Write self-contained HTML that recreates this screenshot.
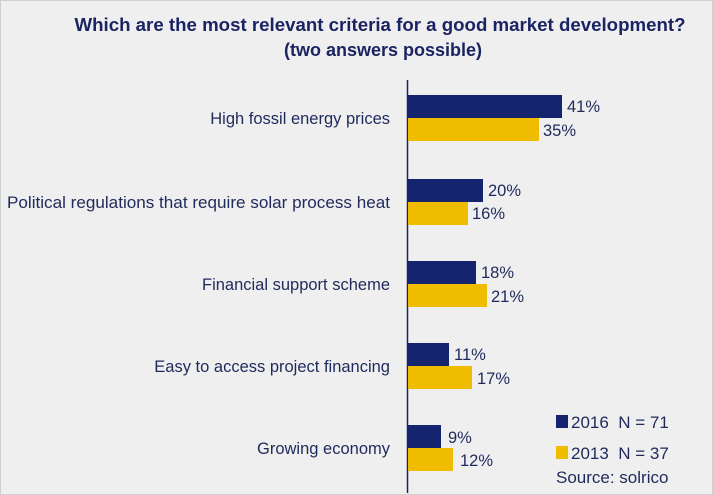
<!DOCTYPE html>
<html><head><meta charset="utf-8"><style>
html,body{margin:0;padding:0;background:#efefef;}
svg{display:block;font-family:"Liberation Sans",sans-serif;}
</style></head><body>
<svg width="713" height="495" viewBox="0 0 713 495">
<rect x="0.5" y="0.5" width="712" height="494" fill="#efefef" stroke="#cfcfcf"/>
<g fill="#1a2463" font-weight="bold" font-size="18" text-anchor="middle">
<text x="380" y="31" textLength="611" lengthAdjust="spacingAndGlyphs">Which are the most relevant criteria for a good market development?</text>
<text x="383" y="56" textLength="198" lengthAdjust="spacingAndGlyphs">(two answers possible)</text>
</g>
<line x1="407.5" y1="80" x2="407.5" y2="493" stroke="#1a2463" stroke-width="1.5"/>
<g fill="#14246f">
<rect x="408" y="95" width="154" height="23"/>
<rect x="408" y="179" width="75" height="23"/>
<rect x="408" y="261" width="68" height="23"/>
<rect x="408" y="343" width="41" height="23"/>
<rect x="408" y="425" width="33" height="23"/>
</g>
<g fill="#f0bc00">
<rect x="408" y="118" width="131" height="23"/>
<rect x="408" y="202" width="60" height="23"/>
<rect x="408" y="284" width="79" height="23"/>
<rect x="408" y="366" width="64" height="23"/>
<rect x="408" y="448" width="45" height="23"/>
</g>
<g fill="#1f2a5c" font-size="16.5">
<text x="567" y="112">41%</text><text x="543" y="136">35%</text>
<text x="488" y="196">20%</text><text x="472" y="219">16%</text>
<text x="481" y="278">18%</text><text x="491" y="302">21%</text>
<text x="454" y="360">11%</text><text x="477" y="384">17%</text>
<text x="448" y="443">9%</text><text x="460" y="466">12%</text>
</g>
<g fill="#1f2a5c" font-size="16.5" text-anchor="end">
<text x="390" y="124">High fossil energy prices</text>
<text x="390" y="208" textLength="383" lengthAdjust="spacingAndGlyphs">Political regulations that require solar process heat</text>
<text x="390" y="290">Financial support scheme</text>
<text x="390" y="372">Easy to access project financing</text>
<text x="390" y="454">Growing economy</text>
</g>
<rect x="556" y="415" width="12" height="13" fill="#14246f"/>
<rect x="556" y="446" width="12" height="13" fill="#f0bc00"/>
<g fill="#1f2a5c" font-size="17">
<text x="571" y="428" xml:space="preserve">2016  N = 71</text>
<text x="571" y="459" xml:space="preserve">2013  N = 37</text>
<text x="556" y="483">Source: solrico</text>
</g>
</svg>
</body></html>
